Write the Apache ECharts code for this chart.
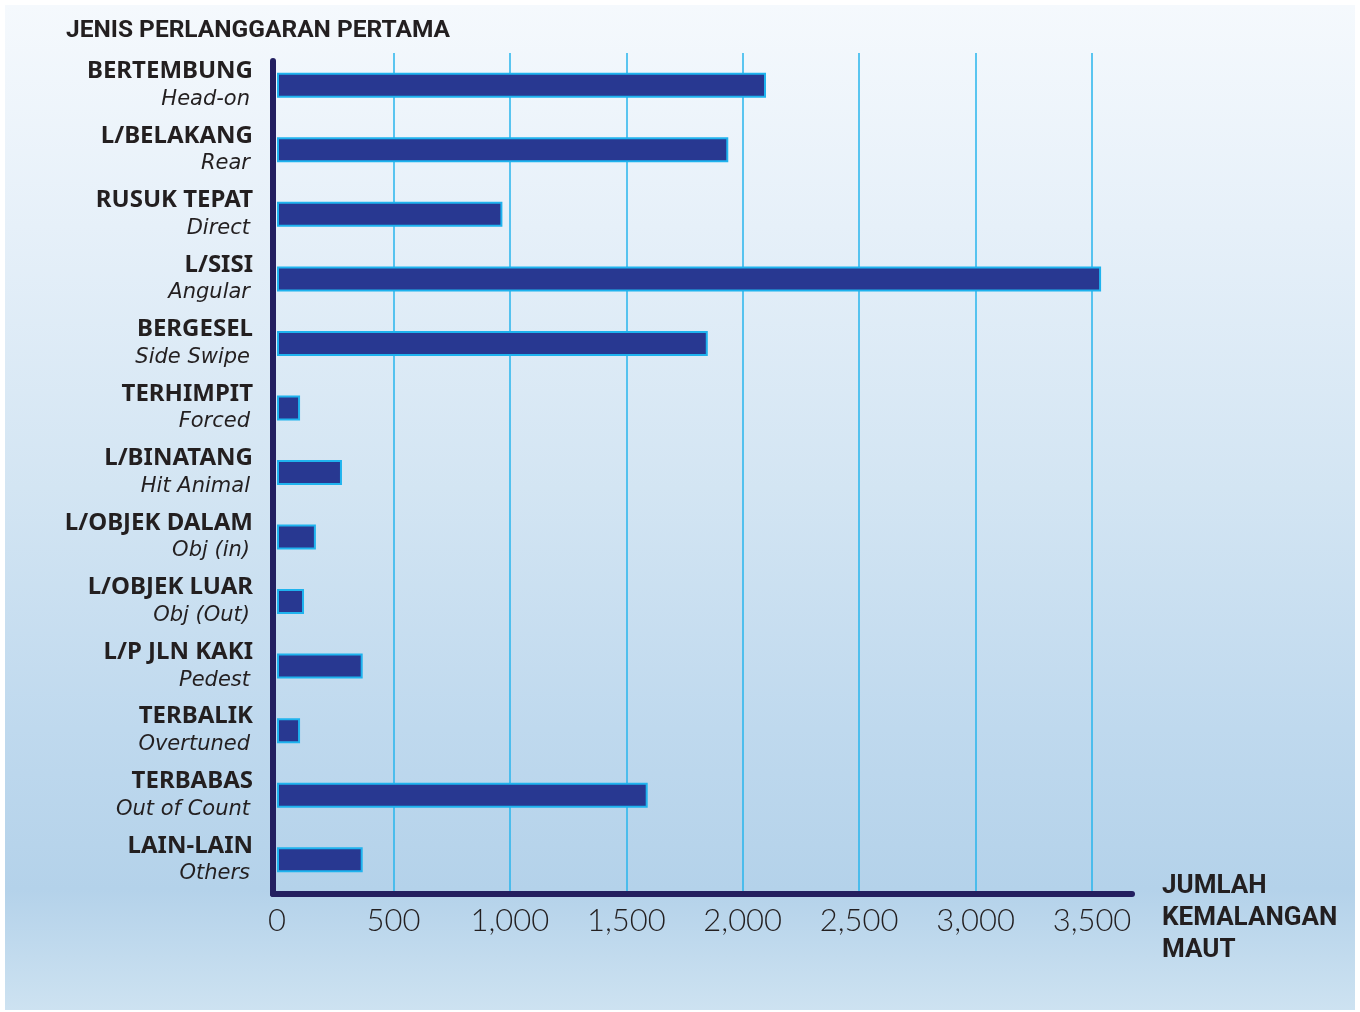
<!DOCTYPE html>
<html>
<head>
<meta charset="utf-8">
<script src="https://cdn.jsdelivr.net/npm/echarts@6/dist/echarts.min.js"></script>
<style>
  html, body { margin:0; padding:0; background:#ffffff; }
  #bg { position:absolute; left:5px; top:5px; width:1350px; height:1005px;
        background: linear-gradient(to bottom, #f5f9fd 0%, #e6f0f9 22%, #d3e5f3 48%, #bfd9ee 72%, #b4d2ea 88%, #cde2f1 100%); }
  #chart { position:absolute; left:0; top:0; width:1360px; height:1012px; }
</style>
</head>
<body>
<div id="bg"></div>
<div id="chart"></div>
<script>
const titleText = 'JENIS PERLANGGARAN PERTAMA';
const axisNameLines = ['JUMLAH', 'KEMALANGAN', 'MAUT'];
const categories = ['BERTEMBUNG','L/BELAKANG','RUSUK TEPAT','L/SISI','BERGESEL','TERHIMPIT','L/BINATANG','L/OBJEK DALAM','L/OBJEK LUAR','L/P JLN KAKI','TERBALIK','TERBABAS','LAIN-LAIN'];
const englishNames = ['Head-on','Rear','Direct','Angular','Side Swipe','Forced','Hit Animal','Obj (in)','Obj (Out)','Pedest','Overtuned','Out of Count','Others'];
const fatalities = [2100, 1938, 968, 3539, 1850, 99, 279, 167, 116, 368, 99, 1592, 368];
const xTicks = [0, 500, 1000, 1500, 2000, 2500, 3000, 3500];

const chart = echarts.init(document.getElementById('chart'), null, {renderer:'canvas'});
const option = {
  backgroundColor: 'transparent',
  animation: false,
  title: {
    text: titleText, left: 61, top: 13,
    textStyle: { fontFamily: 'Roboto, "Noto Sans", sans-serif', fontWeight: 'bold', fontSize: 24.5, color: '#231f20' }
  },
  grid: [
    { left: 277, right: 1360 - 1092, top: 53, height: 839 },
    { left: 273, right: 1360 - 1132, top: 61, bottom: 1012 - 894 }
  ],
  xAxis: [
    {
      gridIndex: 0, type: 'value', min: xTicks[0], max: xTicks[xTicks.length - 1], interval: 500,
      axisLine: { show: false }, axisTick: { show: false },
      splitLine: { show: true, showMinLine: false, lineStyle: { color: '#27b4ec', width: 1.5 } },
      axisLabel: {
        margin: 13, color: '#231f20', fontSize: 31, fontFamily: 'Lato, "Open Sans", sans-serif', fontWeight: 300,
        formatter: v => v.toLocaleString('en-US')
      }
    },
    {
      gridIndex: 1, type: 'value', min: 0, max: 1,
      axisLine: { show: true, lineStyle: { color: '#231f60', width: 6 } },
      axisTick: { show: false }, axisLabel: { show: false }, splitLine: { show: false },
      name: '{s| }\n' + axisNameLines.map(t => '{t|' + t + '}').join('\n'),
      nameLocation: 'end', nameGap: 30,
      nameTextStyle: {
        align: 'left', verticalAlign: 'middle',
        rich: {
          s: { fontSize: 10, lineHeight: 48 },
          t: { fontFamily: 'Roboto, "Noto Sans", sans-serif', fontWeight: 'bold', fontSize: 26, color: '#231f20', lineHeight: 32 }
        }
      }
    }
  ],
  yAxis: [
    {
      gridIndex: 0, type: 'category', data: categories, inverse: true,
      axisLine: { show: false }, axisTick: { show: false }, splitLine: { show: false },
      axisLabel: {
        margin: 24, align: 'right',
        formatter: (v, i) => '{b|' + v + '}\n{i|' + englishNames[i] + '}',
        rich: {
          b: { fontFamily: '"Noto Sans", sans-serif', fontWeight: 'bold', fontSize: 24, lineHeight: 28, color: '#231f20' },
          i: { fontFamily: '"DejaVu Sans", sans-serif', fontStyle: 'italic', fontSize: 21, lineHeight: 28, color: '#231f20', padding: [0, 3, 0, 0] }
        }
      }
    },
    {
      gridIndex: 1, type: 'value', min: 0, max: 1,
      axisLine: { show: true, lineStyle: { color: '#231f60', width: 6 } },
      axisTick: { show: false }, axisLabel: { show: false }, splitLine: { show: false }
    }
  ],
  series: [{
    type: 'bar', xAxisIndex: 0, yAxisIndex: 0, data: fatalities, barWidth: 25, clip: false,
    itemStyle: { color: '#283891', borderColor: '#1fb3ee', borderWidth: 2 }
  }]
};
chart.setOption(option);
</script>
</body>
</html>
